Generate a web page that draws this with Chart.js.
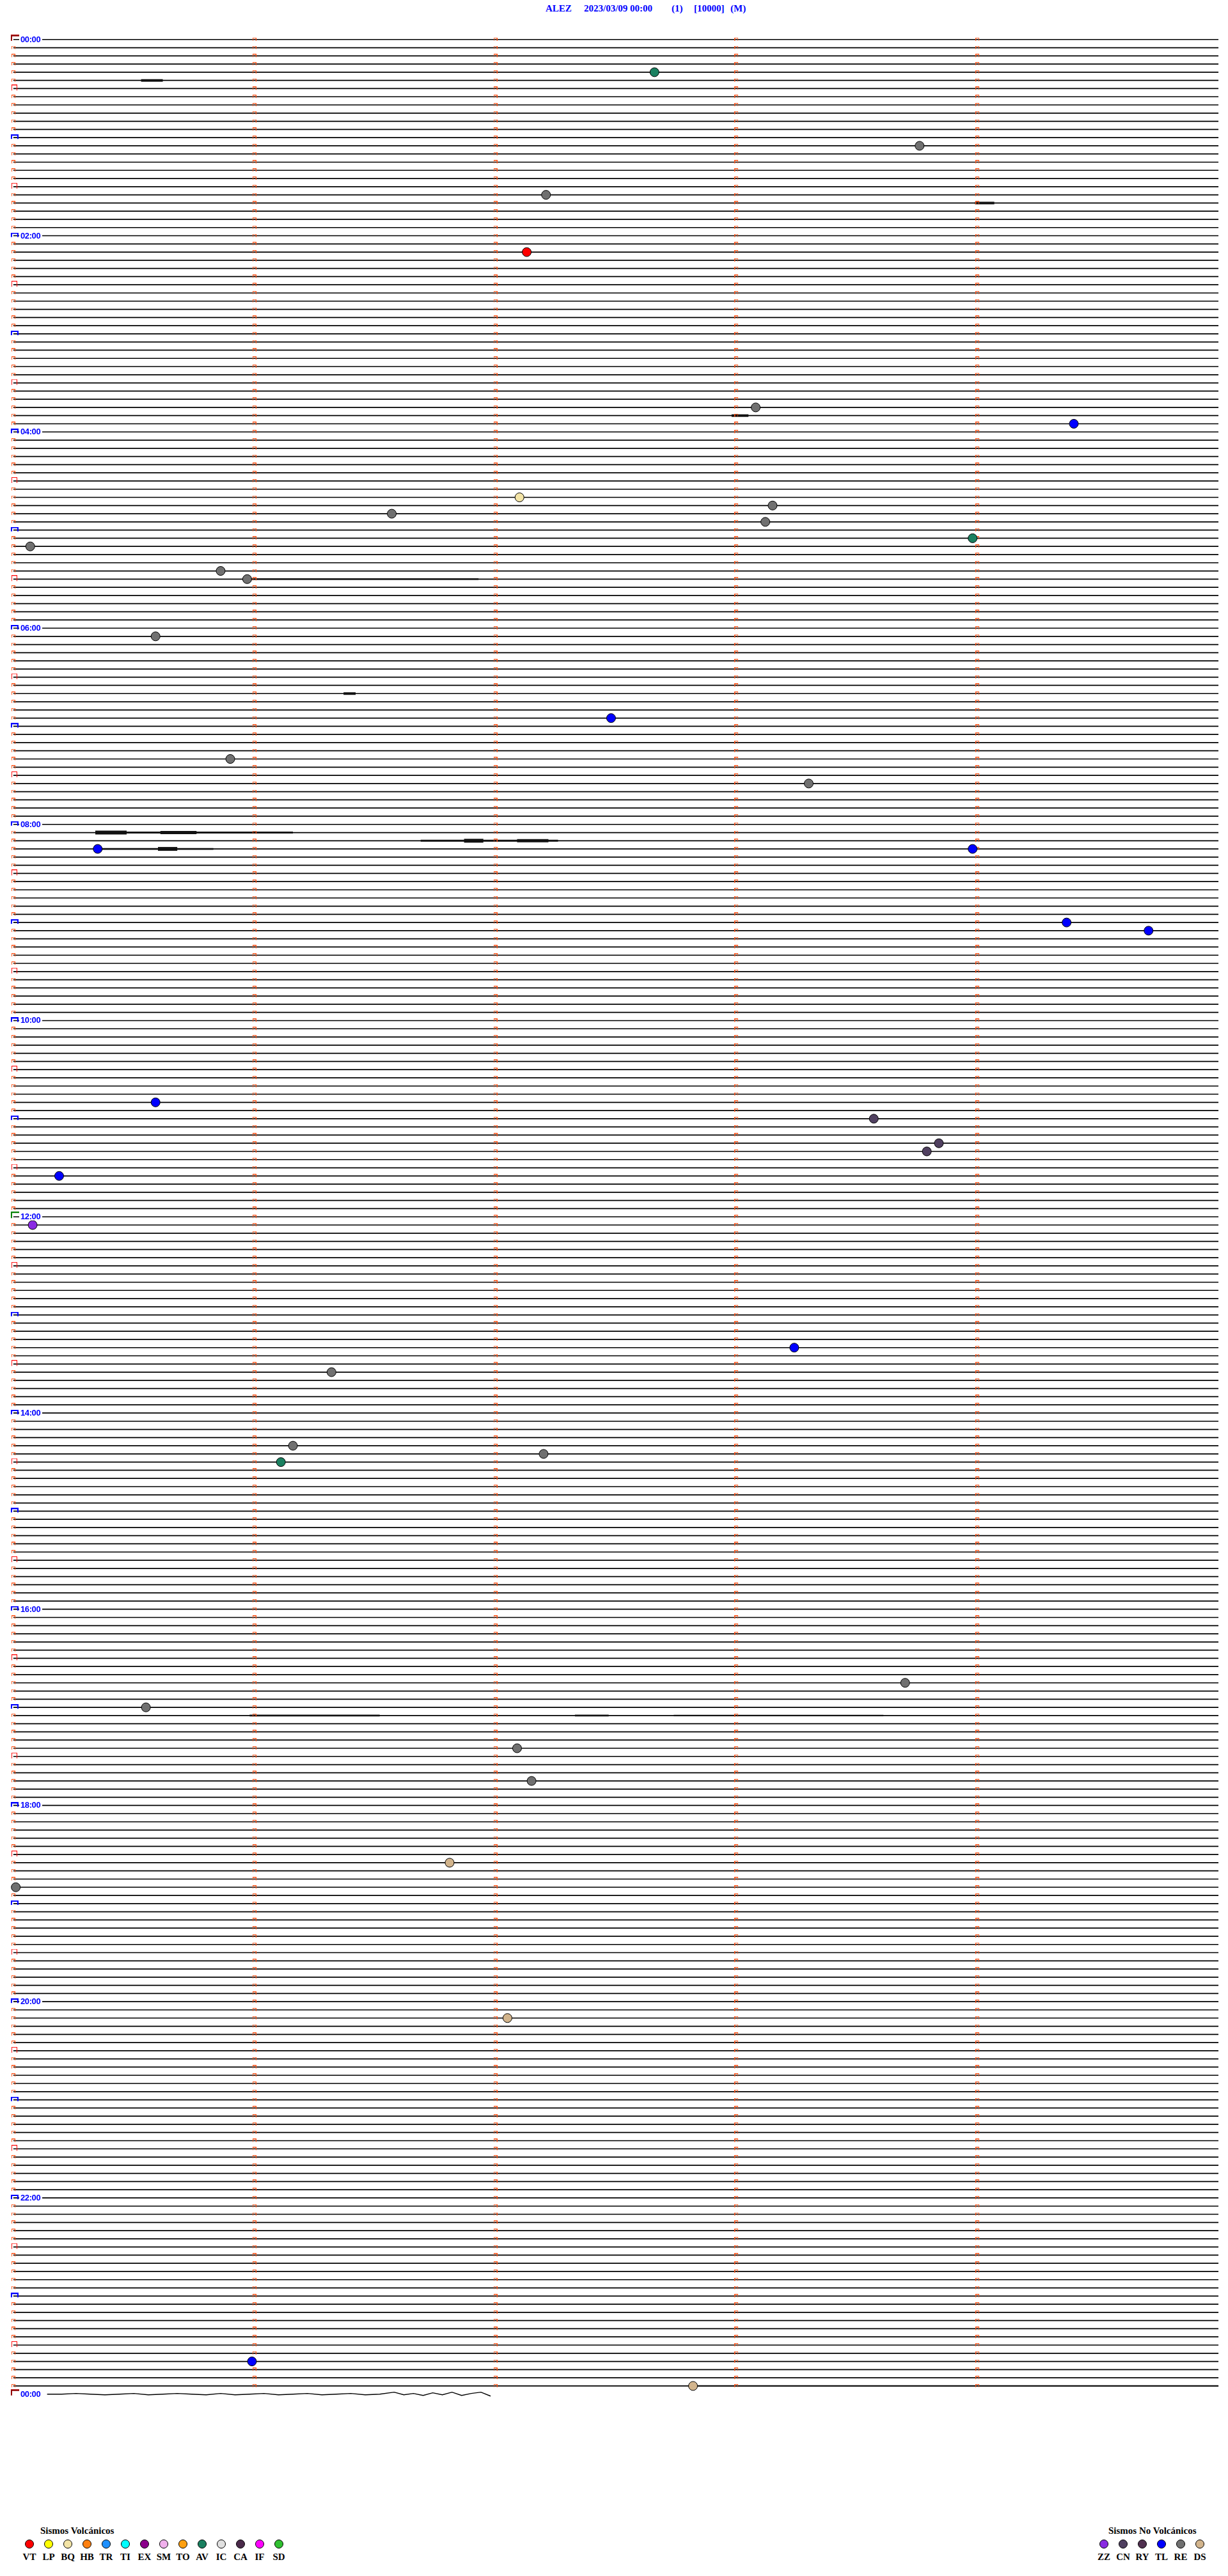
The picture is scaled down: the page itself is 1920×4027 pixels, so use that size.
<!DOCTYPE html>
<html>
<head>
<meta charset="utf-8">
<title>ALEZ 2023/03/09</title>
<script src="https://cdn.jsdelivr.net/npm/chart.js@4.4.1/dist/chart.umd.min.js"></script>
<style>
  html, body { margin: 0; padding: 0; background: #fff; }
  body { position: relative; width: 1920px; height: 4027px; overflow: hidden; }
  #wrap { position: absolute; left: 0; top: 0; width: 1920px; height: 3800px; }
  .head { position: absolute; top: 5px; color: #0000ff; font: bold 15px "Liberation Serif", serif; white-space: pre; }
  .hour { position: absolute; left: 30px; width: 34px; height: 14px; line-height: 14px; padding-left: 2px;
          background: #fff; color: #0000ff; font: bold 13px "Liberation Sans", sans-serif; letter-spacing: -0.4px; }
  .legend-title { position: absolute; top: 3948px; font: bold 15px "Liberation Serif", serif; color: #000; white-space: nowrap; }
  .legend-row { position: absolute; top: 3970px; display: flex; }
  .item { width: 30px; text-align: center; font: bold 15px "Liberation Serif", serif; line-height: 16px; color: #000; }
  .dot { display: block; width: 12px; height: 12px; border: 1px solid #000; border-radius: 50%; margin: 0 auto 5px; }
</style>
</head>
<body>
<span class="head" style="left:853px">ALEZ</span>
<span class="head" style="left:913px">2023/03/09 00:00</span>
<span class="head" style="left:1050px">(1)</span>
<span class="head" style="left:1085px">[10000]</span>
<span class="head" style="left:1142px">(M)</span>

<div id="wrap"><canvas id="heli" width="1920" height="3800"></canvas></div>
<div id="hours"></div>

<div class="legend-title" style="left:63px">Sismos Volcánicos</div>
<div class="legend-row" id="legVolc" style="left:31px"></div>
<div class="legend-title" style="left:1733px">Sismos No Volcánicos</div>
<div class="legend-row" id="legNoVolc" style="left:1711px"></div>

<script>
// one row = 5 minutes, 12 rows per hour, 24 h + closing row
const rowsPerHour = 12;
const rowCount = 289;
const minuteTicks = [0, 1, 2, 3, 4];
const hourLabels = ['00:00', '02:00', '04:00', '06:00', '08:00', '10:00', '12:00',
  '14:00', '16:00', '18:00', '20:00', '22:00', '00:00'];

// closing row (00:00 next day), only ~2 min of signal
const lastRowMinutes = [0.14, 0.20, 0.26, 0.32, 0.38, 0.44, 0.50, 0.56, 0.62, 0.68, 0.74, 0.80,
  0.86, 0.92, 0.98, 1.04, 1.10, 1.16, 1.22, 1.28, 1.34, 1.40, 1.46, 1.52, 1.58, 1.62, 1.66,
  1.70, 1.74, 1.78, 1.82, 1.86, 1.90, 1.94, 1.98];
const lastRowValues = [0, 0, -0.08, 0, 0.08, 0, -0.08, 0.08, 0, -0.08, 0, 0.08, -0.08, 0.08,
  0, -0.08, 0.08, 0, -0.08, 0.08, 0, -0.08, 0.08, 0, -0.24, 0.08, -0.08, 0.16, -0.16, 0.08,
  -0.24, 0.16, -0.08, -0.24, 0.24];

// noisy stretches: [row, from minute, to minute, thickness]
const bursts = [
  [5, 0.53, 0.62, 4], [20, 3.99, 4.07, 4], [46, 2.98, 3.05, 4], [80, 1.37, 1.42, 4],
  [66, 0.98, 1.93, 2.6],
  [97, 0.34, 1.16, 3], [97, 0.34, 0.47, 6], [97, 0.61, 0.76, 5],
  [98, 1.69, 2.26, 3], [98, 1.87, 1.95, 6], [98, 2.09, 2.22, 5],
  [99, 0.35, 0.83, 2.6], [99, 0.60, 0.68, 6],
  [205, 0.98, 1.52, 2.6], [205, 2.33, 2.47, 2.6], [205, 2.74, 3.61, 2.4],
  [287, 2.80, 5.00, 2.4]
];

// classified events: [row, minute]
const eventsVT = [[26, 2.13]];
const eventsBQ = [[56, 2.10]];
const eventsAV = [[4, 2.66], [61, 3.98], [174, 1.11]];
const eventsRE = [[13, 3.76], [19, 2.21], [45, 3.08], [57, 3.15], [58, 1.57], [59, 3.12],
  [62, 0.07], [65, 0.86], [66, 0.97], [73, 0.59], [88, 0.90], [91, 3.30], [163, 1.32],
  [172, 1.16], [173, 2.20], [201, 3.70], [204, 0.55], [209, 2.09], [213, 2.15], [226, 0.01]];
const eventsTL = [[47, 4.40], [83, 2.48], [99, 0.35], [99, 3.98], [108, 4.37], [109, 4.71],
  [130, 0.59], [139, 0.19], [160, 3.24], [284, 0.99]];
const eventsCN = [[132, 3.57], [135, 3.84], [136, 3.79]];
const eventsZZ = [[145, 0.08]];
const eventsDS = [[223, 1.81], [242, 2.05], [287, 2.82]];

const volcLegend = [['VT', '#ff0000'], ['LP', '#ffff00'], ['BQ', '#f3e4a6'], ['HB', '#ff8010'],
  ['TR', '#1e90ff'], ['TI', '#00ffff'], ['EX', '#8b008b'], ['SM', '#f0b0ec'], ['TO', '#ffa010'],
  ['AV', '#1a8060'], ['IC', '#e0e0e0'], ['CA', '#4a2a4a'], ['IF', '#ff00ff'], ['SD', '#30c030']];
const noVolcLegend = [['ZZ', '#8a2be2'], ['CN', '#504060'], ['RY', '#503050'], ['TL', '#0000ff'],
  ['RE', '#707070'], ['DS', '#d2b48c']];

const colorOf = {};
volcLegend.concat(noVolcLegend).forEach(([k, c]) => colorOf[k] = c);

// --- small marker glyphs used as point styles ---
// shape is drawn so that the canvas centre sits on the trace line
function bracket(color, left, right, up, down, top, side) {
  const w = 2 * Math.max(left, right), h = 2 * Math.max(up, down);
  const c = document.createElement('canvas');
  c.width = w; c.height = h;
  const g = c.getContext('2d');
  const x0 = w / 2 - left, y0 = h / 2 - up, bw = left + right, bh = up + down;
  g.fillStyle = color;
  g.fillRect(x0, y0, bw, top);
  g.fillRect(x0, y0, side, bh);
  g.fillRect(x0 + bw - side, y0, side, bh);
  return c;
}
const tickMark = bracket('#ff5014', 3, 3, 3, 2, 1, 1);
const halfMark = bracket('#ff1010', 3, 6, 6, 3, 1, 1);
const hourMark = bracket('#0000ff', 4, 8, 5, 2, 2, 2);
const noonMark = bracket('#008000', 4, 13, 8, 2, 2, 2);
const dayMark = (() => {
  const c = bracket('#900000', 4, 16, 8, 2, 3, 2);
  const g = c.getContext('2d');
  g.fillStyle = '#c02020';
  g.fillRect(c.width / 2 - 4, c.height / 2 - 8, 20, 1);
  return c;
})();

const datasets = [];

// traces
for (let r = 0; r < rowCount - 1; r++) {
  datasets.push({
    type: 'line', data: [{ x: 0, y: r }, { x: 5, y: r }],
    borderColor: '#000', borderWidth: 1.7, pointRadius: 0, order: 4, clip: false
  });
}
datasets.push({
  type: 'line',
  data: lastRowMinutes.map((m, i) => ({ x: m, y: rowCount - 1 + lastRowValues[i] })),
  borderColor: '#000', borderWidth: 1.4, pointRadius: 0, order: 4, clip: false
});

bursts.forEach(([r, a, b, w]) => {
  datasets.push({
    type: 'line', data: [{ x: a, y: r }, { x: b, y: r }],
    borderColor: '#111', borderWidth: w, borderCapStyle: 'butt', pointRadius: 0, order: 3
  });
});

// minute / hour marks
const ticks = [], halves = [], hours = [], noon = [], days = [];
for (let r = 0; r < rowCount; r++) {
  if (r === 0 || r === rowCount - 1) days.push({ x: 0, y: r });
  else if (r === 12 * rowsPerHour) noon.push({ x: 0, y: r });
  else if (r % rowsPerHour === 0) hours.push({ x: 0, y: r });
  else if (r % (rowsPerHour / 2) === 0) halves.push({ x: 0, y: r });
  if (r === rowCount - 1) continue;
  minuteTicks.forEach(m => {
    if (m === 0 && r % (rowsPerHour / 2) === 0) return;
    ticks.push({ x: m, y: r });
  });
}
[[ticks, tickMark], [halves, halfMark], [hours, hourMark], [noon, noonMark], [days, dayMark]]
  .forEach(([pts, glyph]) => {
    datasets.push({
      type: 'scatter', data: pts, pointStyle: glyph, pointRadius: 4, order: 2, clip: false
    });
  });

// events
[['VT', eventsVT], ['BQ', eventsBQ], ['AV', eventsAV], ['RE', eventsRE], ['TL', eventsTL],
 ['CN', eventsCN], ['ZZ', eventsZZ], ['DS', eventsDS]].forEach(([k, list]) => {
  datasets.push({
    type: 'scatter', label: k,
    data: list.map(([r, m]) => ({ x: m, y: r })),
    pointRadius: 7, pointBackgroundColor: colorOf[k], pointBorderColor: '#000',
    pointBorderWidth: 1, order: 0, clip: false
  });
});

const ROW_PX = 12.835, TOP_PX = 54, MIN_PX = 380, LEFT_PX = 13;
const canvas = document.getElementById('heli');

const chart = new Chart(canvas.getContext('2d'), {
  type: 'line',
  data: { datasets },
  options: {
    responsive: false,
    animation: false,
    devicePixelRatio: 1,
    events: [],
    layout: { padding: 0 },
    plugins: { legend: { display: false }, tooltip: { enabled: false } },
    scales: {
      x: { type: 'linear', display: false, min: -LEFT_PX / MIN_PX, max: (1920 - LEFT_PX) / MIN_PX },
      y: { type: 'linear', display: false, reverse: true,
           min: -TOP_PX / ROW_PX, max: (3800 - TOP_PX) / ROW_PX }
    }
  }
});

// hour labels, placed with the chart's own y scale
const hoursBox = document.getElementById('hours');
hourLabels.forEach((txt, i) => {
  const y = chart.scales.y.getPixelForValue(i * 2 * rowsPerHour);
  const d = document.createElement('div');
  d.className = 'hour';
  d.style.top = (y - 8) + 'px';
  d.textContent = txt;
  hoursBox.appendChild(d);
});

function buildLegend(id, items) {
  const box = document.getElementById(id);
  items.forEach(([k, c]) => {
    const it = document.createElement('div');
    it.className = 'item';
    it.innerHTML = `<span class="dot" style="background:${c}"></span>${k}`;
    box.appendChild(it);
  });
}
buildLegend('legVolc', volcLegend);
buildLegend('legNoVolc', noVolcLegend);
</script>
</body>
</html>
